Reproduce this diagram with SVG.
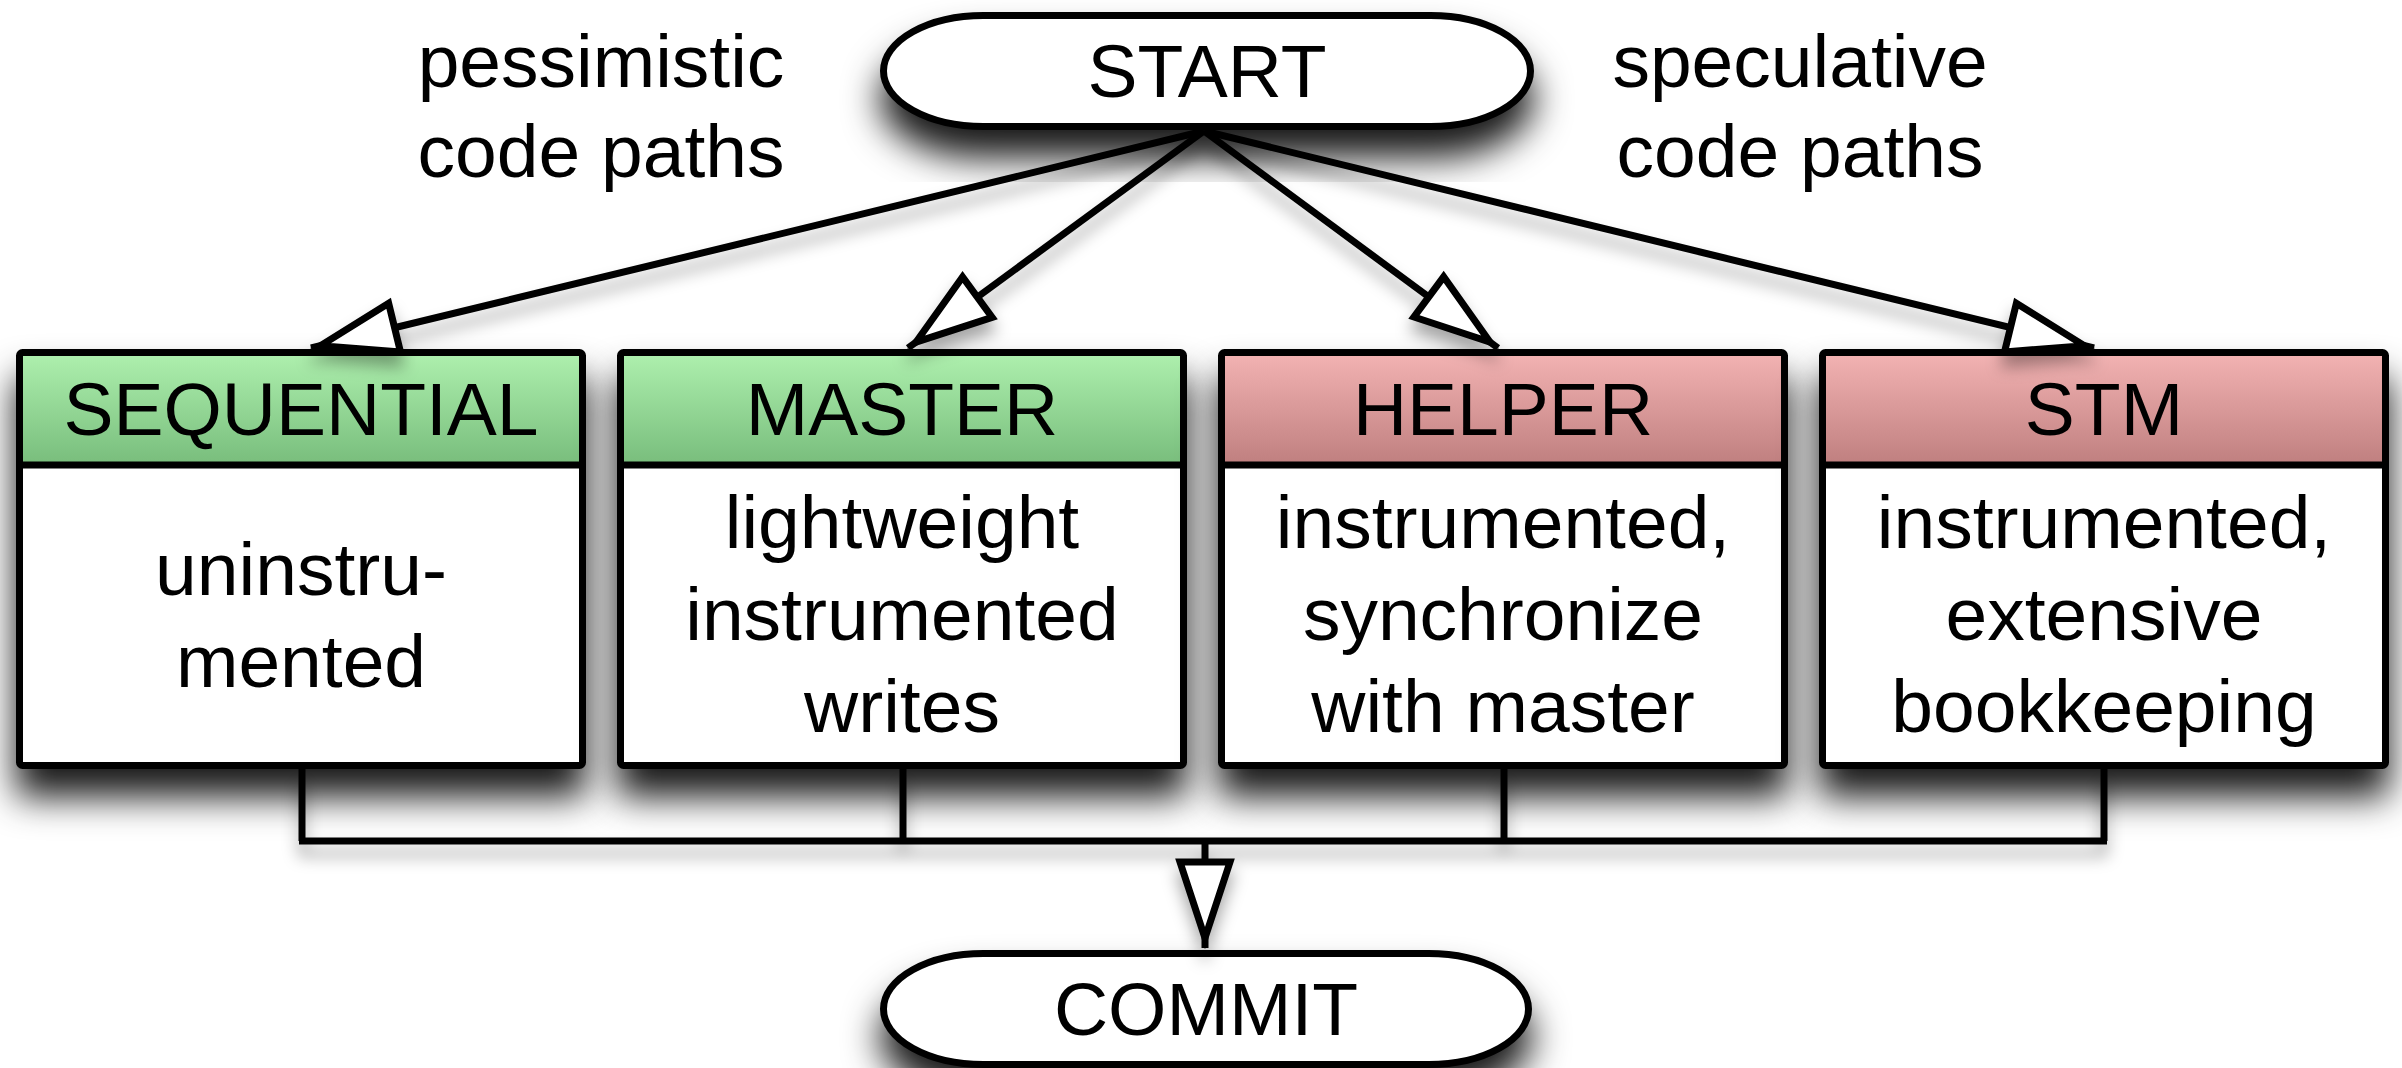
<svg xmlns="http://www.w3.org/2000/svg" width="2402" height="1068" viewBox="0 0 2402 1068">
<style>
text{font-family:"Liberation Sans",Arial,Helvetica,sans-serif;font-size:75px;fill:#000;text-anchor:middle}
.outline{fill:none;stroke:#000;stroke-width:7;stroke-linejoin:round}
.body{fill:#fff}
.div{stroke:#000;stroke-width:7}
.term{fill:#fff;stroke:#000;stroke-width:7}
.conn{fill:none;stroke:#000;stroke-width:7}
</style>
<defs>
<linearGradient id="gG" x1="0" y1="0" x2="0" y2="1"><stop offset="0" stop-color="#aef0ae"/><stop offset="1" stop-color="#78bd7c"/></linearGradient>
<linearGradient id="gR" x1="0" y1="0" x2="0" y2="1"><stop offset="0" stop-color="#f3b3b3"/><stop offset="1" stop-color="#bf7f7f"/></linearGradient>
<filter id="sh" x="-15%" y="-30%" width="130%" height="180%"><feDropShadow dx="0" dy="28" stdDeviation="18" flood-color="#000" flood-opacity="0.9"/></filter>
<filter id="shl" x="-10%" y="-50%" width="120%" height="300%"><feDropShadow dx="0" dy="12" stdDeviation="8" flood-color="#000" flood-opacity="0.35"/></filter>
<marker id="ah" markerUnits="userSpaceOnUse" orient="auto" refX="0" refY="0" markerWidth="200" markerHeight="200" overflow="visible">
<path d="M-10,0 L-86,-25 L-86,25 Z" fill="#fff" stroke="#000" stroke-width="7"/>
</marker>
</defs>

<g id="label-pessimistic"><text x="601" y="87">pessimistic</text><text x="601" y="177">code paths</text></g>
<g id="label-speculative"><text x="1800" y="87">speculative</text><text x="1800" y="177">code paths</text></g>

<g id="start" filter="url(#sh)"><rect class="term" x="883.5" y="15.5" width="647" height="111" rx="100" ry="55.5"/><text x="1207" y="97">START</text></g>

<g id="sequential" filter="url(#sh)">
<rect class="body" x="19.5" y="352.5" width="563" height="413"/>
<rect x="19.5" y="352.5" width="563" height="112.5" fill="url(#gG)"/>
<rect class="outline" x="19.5" y="352.5" width="563" height="413" rx="3"/>
<line class="div" x1="19.5" y1="465" x2="582.5" y2="465"/>
<text x="301" y="435">SEQUENTIAL</text>
<text x="301" y="595">uninstru-</text><text x="301" y="687">mented</text>
</g>
<g id="master" filter="url(#sh)">
<rect class="body" x="620.5" y="352.5" width="563" height="413"/>
<rect x="620.5" y="352.5" width="563" height="112.5" fill="url(#gG)"/>
<rect class="outline" x="620.5" y="352.5" width="563" height="413" rx="3"/>
<line class="div" x1="620.5" y1="465" x2="1183.5" y2="465"/>
<text x="902" y="435">MASTER</text>
<text x="902" y="548">lightweight</text><text x="902" y="640">instrumented</text><text x="902" y="732">writes</text>
</g>
<g id="helper" filter="url(#sh)">
<rect class="body" x="1221.5" y="352.5" width="563" height="413"/>
<rect x="1221.5" y="352.5" width="563" height="112.5" fill="url(#gR)"/>
<rect class="outline" x="1221.5" y="352.5" width="563" height="413" rx="3"/>
<line class="div" x1="1221.5" y1="465" x2="1784.5" y2="465"/>
<text x="1503" y="435">HELPER</text>
<text x="1503" y="548">instrumented,</text><text x="1503" y="640">synchronize</text><text x="1503" y="732">with master</text>
</g>
<g id="stm" filter="url(#sh)">
<rect class="body" x="1822.5" y="352.5" width="563" height="413"/>
<rect x="1822.5" y="352.5" width="563" height="112.5" fill="url(#gR)"/>
<rect class="outline" x="1822.5" y="352.5" width="563" height="413" rx="3"/>
<line class="div" x1="1822.5" y1="465" x2="2385.5" y2="465"/>
<text x="2104" y="435">STM</text>
<text x="2104" y="548">instrumented,</text><text x="2104" y="640">extensive</text><text x="2104" y="732">bookkeeping</text>
</g>

<g id="commit" filter="url(#sh)"><rect class="term" x="883.5" y="953.5" width="645" height="111" rx="100" ry="55.5"/><text x="1206" y="1035">COMMIT</text></g>

<g id="connectors" filter="url(#shl)">
<line class="conn" x1="1204" y1="131" x2="311" y2="348" marker-end="url(#ah)"/>
<line class="conn" x1="1204" y1="131" x2="908" y2="348" marker-end="url(#ah)"/>
<line class="conn" x1="1204" y1="131" x2="1498" y2="348" marker-end="url(#ah)"/>
<line class="conn" x1="1204" y1="131" x2="2094" y2="348" marker-end="url(#ah)"/>
<line class="conn" stroke-width="5" x1="302" y1="769" x2="302" y2="841"/>
<line class="conn" stroke-width="5" x1="903" y1="769" x2="903" y2="841"/>
<line class="conn" stroke-width="5" x1="1504" y1="769" x2="1504" y2="841"/>
<line class="conn" stroke-width="5" x1="2104" y1="769" x2="2104" y2="841"/>
<line class="conn" stroke-width="7" x1="299" y1="841" x2="2107" y2="841"/>
<line class="conn" stroke-width="6" x1="1205" y1="841" x2="1205" y2="948" marker-end="url(#ah)"/>
</g>
</svg>
